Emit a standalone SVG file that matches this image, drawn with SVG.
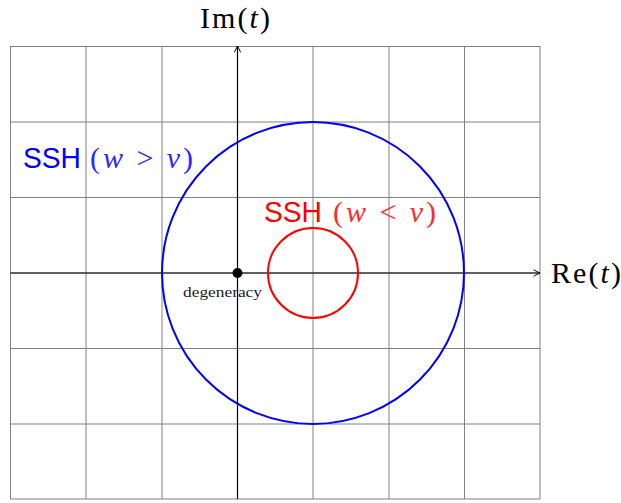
<svg xmlns="http://www.w3.org/2000/svg" width="621" height="503" viewBox="0 0 621 503">
<style>
.grid{stroke:#808080;stroke-width:1;fill:none}
.axis{stroke:#000;stroke-width:1.2;fill:none}
.lbl{font-family:"Liberation Serif","DejaVu Serif",serif;font-size:30px}
.sans{font-family:"Liberation Sans","DejaVu Sans",sans-serif;font-size:29px}
.it{font-style:italic}
</style>
<defs>
<marker id="arr" viewBox="0 0 10 10" refX="9" refY="5" markerWidth="8" markerHeight="8" markerUnits="userSpaceOnUse" orient="auto">
<path d="M1,1 L9,5 L1,9" fill="none" stroke="#000" stroke-width="1.2"/>
</marker>
</defs>
<g id="grid" class="grid">
<rect x="10.5" y="46.5" width="529.5" height="452.5"/>
<path d="M86 46.5V499M162 46.5V499M237.5 46.5V499M313 46.5V499M389 46.5V499M464.5 46.5V499"/>
<path d="M10.5 122H540M10.5 197.5H540M10.5 273H540M10.5 348.5H540M10.5 424H540"/>
</g>
<g id="connectors">
<line class="axis" x1="10.5" y1="273" x2="540" y2="273" marker-end="url(#arr)"/>
<line class="axis" x1="237.5" y1="499" x2="237.5" y2="46" marker-end="url(#arr)"/>
</g>
<g id="blue-circle"><circle cx="313" cy="273" r="151" fill="none" stroke="#0000ff" stroke-width="2"/></g>
<g id="red-circle"><circle cx="313" cy="273" r="45" fill="none" stroke="#ff0000" stroke-width="2"/></g>
<g id="degeneracy">
<circle cx="237.5" cy="273" r="5" fill="#000"/>
<text x="183" y="297" font-family="Liberation Serif, serif" font-size="15" textLength="79" lengthAdjust="spacingAndGlyphs" fill="#222">degeneracy</text>
</g>
<g id="im-label"><text class="lbl" x="200" y="28" textLength="70" lengthAdjust="spacing" fill="#000">Im(<tspan class="it">t</tspan>)</text></g>
<g id="re-label"><text class="lbl" x="551" y="283" textLength="70" lengthAdjust="spacing" fill="#000">Re(<tspan class="it">t</tspan>)</text></g>
<g id="blue-label">
<text class="sans" x="23" y="168" textLength="58" lengthAdjust="spacingAndGlyphs" style="fill:#0000ff">SSH</text>
<text class="lbl" x="90" y="168" textLength="103" lengthAdjust="spacing" style="fill:#2a2aff">(<tspan class="it">w</tspan> &gt; <tspan class="it">v</tspan>)</text>
</g>
<g id="red-label">
<text class="sans" x="264" y="222" textLength="58" lengthAdjust="spacingAndGlyphs" style="fill:#ff0000">SSH</text>
<text class="lbl" x="333" y="222" textLength="103" lengthAdjust="spacing" style="fill:#ff2a2a">(<tspan class="it">w</tspan> &lt; <tspan class="it">v</tspan>)</text>
</g>
</svg>
